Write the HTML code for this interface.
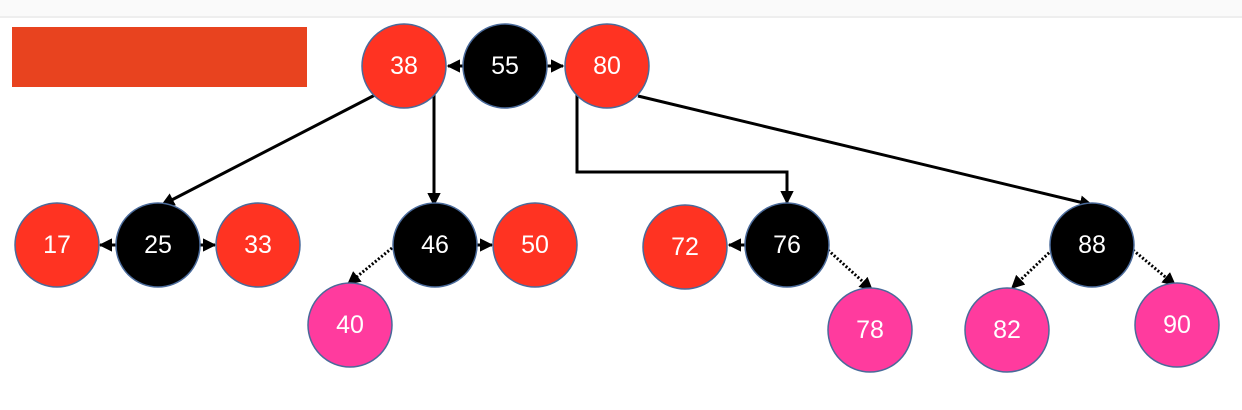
<!DOCTYPE html>
<html><head><style>
html,body{margin:0;padding:0;background:#fff;}
svg{display:block;}
text{font-family:"Liberation Sans",sans-serif;font-size:25px;fill:#fff;text-anchor:middle;dominant-baseline:central;}
</style></head><body>
<svg width="1242" height="410" viewBox="0 0 1242 410">
<defs>
<marker id="a" viewBox="0 0 10 10" refX="9" refY="5" markerWidth="4.5" markerHeight="4.5" orient="auto"><path d="M0,0L10,5L0,10z" fill="#000"/></marker>
</defs>
<rect x="0" y="0" width="1242" height="16" fill="#fafafa"/>
<line x1="0" y1="17" x2="1242" y2="17" stroke="#eee" stroke-width="2"/>
<rect x="12" y="27" width="295" height="60" fill="#E8431F"/>
<g stroke="#000" stroke-width="3" fill="none" marker-end="url(#a)">
<line x1="375" y1="95" x2="162" y2="205"/>
<line x1="434" y1="90" x2="434" y2="205"/>
<polyline points="577,95 577,172 787,172 787,203"/>
<line x1="638" y1="96" x2="1092" y2="205"/>
<line x1="464" y1="66" x2="448" y2="66"/>
<line x1="546" y1="66" x2="563" y2="66"/>
<line x1="117" y1="245" x2="100" y2="245"/>
<line x1="199" y1="245" x2="215" y2="245"/>
<line x1="476" y1="245" x2="492" y2="245"/>
<line x1="746" y1="245" x2="729" y2="245"/>
</g>
<g stroke="#000" stroke-width="3" fill="none" stroke-dasharray="2,2" marker-end="url(#a)">
<line x1="392" y1="248" x2="348" y2="284"/>
<line x1="828" y1="250" x2="872" y2="290"/>
<line x1="1052" y1="250" x2="1012" y2="288"/>
<line x1="1133" y1="250" x2="1175" y2="285"/>
</g>
<g stroke="#4a6a9a" stroke-width="1.5">
<circle cx="404" cy="66" r="42" fill="#FF3322"/>
<circle cx="505" cy="66" r="42" fill="#000"/>
<circle cx="607" cy="66" r="42" fill="#FF3322"/>
<circle cx="57" cy="245" r="42" fill="#FF3322"/>
<circle cx="158" cy="245" r="42" fill="#000"/>
<circle cx="258" cy="245" r="42" fill="#FF3322"/>
<circle cx="435" cy="245" r="42" fill="#000"/>
<circle cx="535" cy="245" r="42" fill="#FF3322"/>
<circle cx="685" cy="247" r="42" fill="#FF3322"/>
<circle cx="787" cy="245" r="42" fill="#000"/>
<circle cx="1092" cy="245" r="42" fill="#000"/>
<circle cx="350" cy="325" r="42" fill="#FF3B9E"/>
<circle cx="870" cy="330" r="42" fill="#FF3B9E"/>
<circle cx="1007" cy="330" r="42" fill="#FF3B9E"/>
<circle cx="1177" cy="325" r="42" fill="#FF3B9E"/>
</g>
<text x="404" y="66">38</text><text x="505" y="66">55</text><text x="607" y="66">80</text>
<text x="57" y="245">17</text><text x="158" y="245">25</text><text x="258" y="245">33</text>
<text x="435" y="245">46</text><text x="535" y="245">50</text><text x="685" y="247">72</text>
<text x="787" y="245">76</text><text x="1092" y="245">88</text>
<text x="350" y="325">40</text><text x="870" y="330">78</text><text x="1007" y="330">82</text><text x="1177" y="325">90</text>
</svg>
</body></html>
